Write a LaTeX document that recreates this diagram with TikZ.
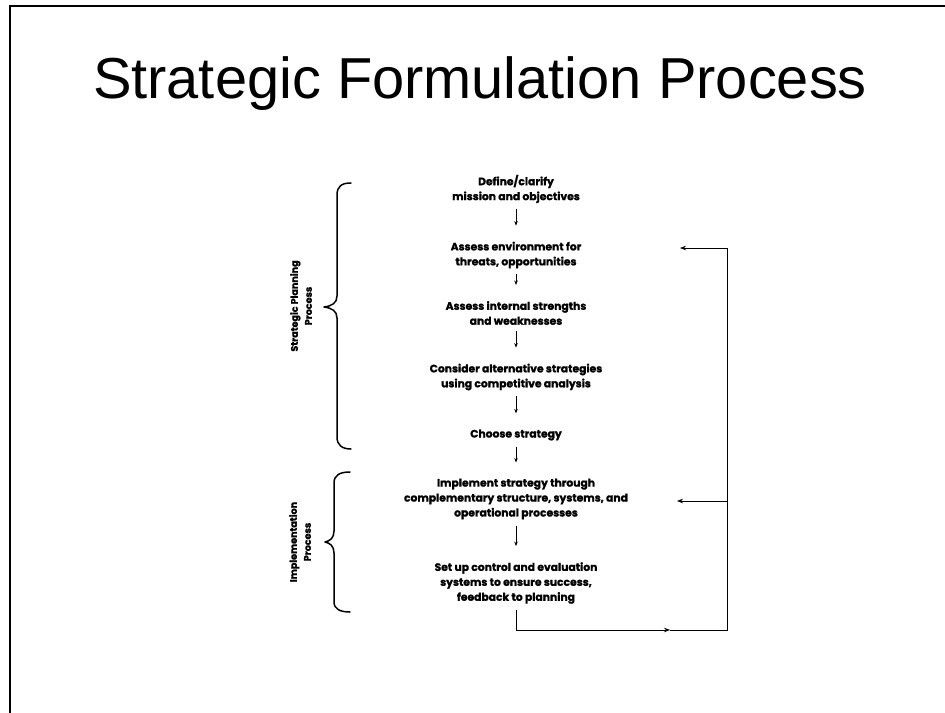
\documentclass[tikz,border=0pt]{standalone}
\usepackage{fontspec}
\setmainfont{Liberation Sans}
\newfontfamily\geo{Poppins}[BoldFeatures={FakeBold=1.3}]
\usetikzlibrary{arrows.meta}

\begin{document}
\begin{tikzpicture}[x=1bp,y=-1bp,
  steptext/.style={font=\geo\bfseries\fontsize{10.8}{15}\selectfont, align=center, inner sep=0pt, text=black},
  flow/.style={-{Stealth[length=4.5bp,width=3.5bp]}, line width=0.6bp, shorten <=6bp, shorten >=16bp},
  feed/.style={line width=0.7bp},
  feedtip/.style={feed, -{Stealth[length=6bp,width=4.5bp]}},
  bracepath/.style={line width=1.5bp, line cap=round, line join=round},
  sidelabel/.style={font=\geo\bfseries\fontsize{9.6}{14}\selectfont, align=center, rotate=90, inner sep=0pt}]

\useasboundingbox (0,0) rectangle (945,713);

% page frame (top and left edges)
\draw[line width=1.5bp] (10,713) -- (10,6) -- (945,6);

% title
\node[font=\fontsize{58}{60}\selectfont, anchor=base, inner sep=0pt] (title) at (480,99) {Strategic Formulation Process};

% process steps
\node[steptext] (def)    at (516,189) {Define/clarify\\mission and objectives};
\node[steptext] (env)    at (516,255) {Assess environment for\\threats, opportunities};
\node[steptext] (int)    at (516,313) {Assess internal strengths\\and weaknesses};
\node[steptext] (con)    at (516,377) {Consider alternative strategies\\using competitive analysis};
\node[steptext] (choose) at (516,435) {Choose strategy};
\node[steptext] (impl)   at (516,499) {Implement strategy through\\complementary structure, systems, and\\operational processes};
\node[steptext] (set)    at (516,583) {Set up control and evaluation\\systems to ensure success,\\feedback to planning};

\draw[flow] (def.south)    -- (env.north);
\draw[flow] (env.south)    -- (int.north);
\draw[flow] (int.south)    -- (con.north);
\draw[flow] (con.south)    -- (choose.north);
\draw[flow] (choose.south) -- (impl.north);
\draw[flow] (impl.south)   -- (set.north);

% feedback loop
\coordinate (fbDown)   at (516,630);
\coordinate (fbMid)    at (670,630);
\coordinate (fbCorner) at (727,630);
\coordinate (fbTop)    at (727,248);
\coordinate (fbEnv)    at (680,248);
\coordinate (fbSide)   at (727,501);
\coordinate (fbImpl)   at (677,501);

\draw[feed, shorten <=6bp] (set.south) -- (fbDown);
\draw[feedtip] (fbDown) -- (fbMid);
\draw[feedtip] (fbMid) -- (fbCorner) -- (fbTop) -- (fbEnv);
\draw[feedtip] (fbSide) -- (fbImpl);

% braces
\draw[bracepath] (351,183) .. controls (342,183) and (337,186) .. (337,195) -- (337,296)
  .. controls (337,303) and (332,306) .. (324,307)
  .. controls (332,308) and (337,311) .. (337,318) -- (337,437)
  .. controls (337,445) and (342,449) .. (351,449);
\draw[bracepath] (350,472) .. controls (340,472) and (334,475) .. (334,483) -- (334,531)
  .. controls (334,538) and (330,541) .. (325,542)
  .. controls (330,543) and (334,546) .. (334,553) -- (334,602)
  .. controls (334,609) and (340,612) .. (350,612);

% phase labels
\node[sidelabel] (plan) at (301,306) {Strategic Planning\\Process};
\node[sidelabel] (impllab) at (300,542) {Implementation\\Process};

\end{tikzpicture}
\end{document}
